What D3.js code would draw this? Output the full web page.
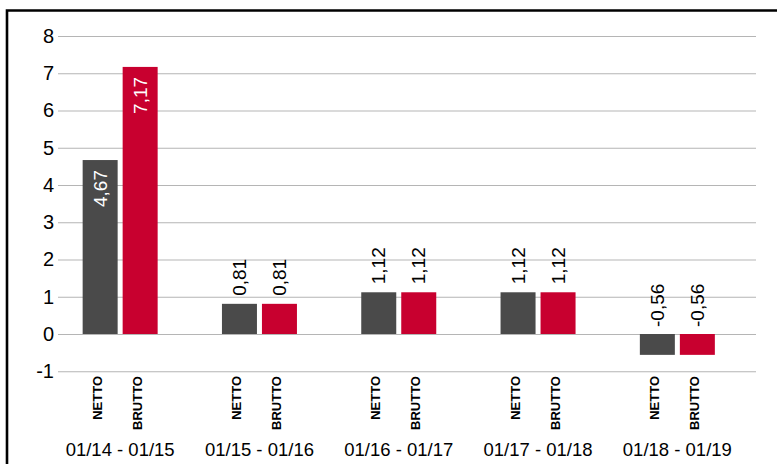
<!DOCTYPE html>
<html>
<head>
<meta charset="utf-8">
<script src="https://cdn.jsdelivr.net/npm/d3@7/dist/d3.min.js"></script>
<style>
  body { margin: 0; background: #fff; }
  svg { display: block; font-family: "Liberation Sans", Arial, Helvetica, sans-serif; }
</style>
</head>
<body>
<svg id="chart" width="777" height="464"></svg>
<script>
// Data
const periods = ['01/14 - 01/15', '01/15 - 01/16', '01/16 - 01/17', '01/17 - 01/18', '01/18 - 01/19'];
const series = ['NETTO', 'BRUTTO'];
const netto = [4.67, 0.81, 1.12, 1.12, -0.56];
const brutto = [7.17, 0.81, 1.12, 1.12, -0.56];
const yTicks = [-1, 0, 1, 2, 3, 4, 5, 6, 7, 8];

const colors = { NETTO: '#4a4a4a', BRUTTO: '#c8002f' };

const svg = d3.select('#chart');

// frame (top + left border only)
svg.append('path')
    .attr('d', 'M7,470 L7,10.5 L790,10.5')
    .attr('fill', 'none')
    .attr('stroke', '#000')
    .attr('stroke-width', 2.6);

// Scales
const gridLeft = 58, gridRight = 756;
const y = d3.scaleLinear().domain([-1, 8]).range([371.25, 36]);
const x0 = d3.scaleBand().domain(periods).range([50.5, 747]).padding(0);
const x1 = d3.scaleBand().domain(series).range([0, 75]).paddingInner(0.125).paddingOuter(0);

// Y axis with gridlines (plain hyphen for negatives)
const yAxis = svg.append('g')
    .attr('transform', `translate(${gridLeft},0)`)
    .call(d3.axisLeft(y).tickValues(yTicks).tickSize(-(gridRight - gridLeft)).tickPadding(4).tickFormat(d => String(d)));
yAxis.select('.domain').remove();
yAxis.selectAll('.tick line').attr('stroke', '#b5b5b5').attr('stroke-width', 1.2);
yAxis.selectAll('.tick text')
    .attr('font-size', 20)
    .attr('fill', '#000')
    .attr('font-family', '"Liberation Sans", Arial, sans-serif');

// Build rows
const rows = periods.map((p, i) => ({ period: p, values: [
    { key: 'NETTO', value: netto[i] },
    { key: 'BRUTTO', value: brutto[i] }
]}));

const groups = svg.append('g').selectAll('g.grp')
    .data(rows)
    .enter()
    .append('g')
    .attr('class', 'grp')
    .attr('transform', d => `translate(${x0(d.period) + (x0.bandwidth() - 75) / 2},0)`);

// Bars
groups.selectAll('rect')
    .data(d => d.values)
    .enter()
    .append('rect')
    .attr('x', d => x1(d.key))
    .attr('width', x1.bandwidth())
    .attr('y', d => y(Math.max(0, d.value)))
    .attr('height', d => Math.abs(y(d.value) - y(0)))
    .attr('fill', d => colors[d.key]);

// Value labels (rotated), comma decimal and plain hyphen
const fmt = v => v.toFixed(2).replace('.', ',');
groups.selectAll('text.val')
    .data(d => d.values)
    .enter()
    .append('text')
    .attr('class', 'val')
    .attr('transform', d => {
        const cx = x1(d.key) + x1.bandwidth() / 2;
        let ty;
        if (d.value >= 3) ty = y(d.value) + 10;
        else if (d.value >= 0) ty = y(d.value) - 8;
        else ty = y(0) - 7;
        return `translate(${cx},${ty}) rotate(-90)`;
    })
    .attr('text-anchor', d => d.value >= 3 ? 'end' : 'start')
    .attr('dominant-baseline', 'central')
    .attr('font-size', 19)
    .attr('fill', d => d.value >= 3 ? '#fff' : '#000')
    .text(d => fmt(d.value));

// Series labels under axis
groups.selectAll('text.ser')
    .data(d => d.values)
    .enter()
    .append('text')
    .attr('class', 'ser')
    .attr('transform', d => `translate(${x1(d.key) + x1.bandwidth() / 2 - 3},376) rotate(-90)`)
    .attr('text-anchor', 'end')
    .attr('dominant-baseline', 'central')
    .attr('font-size', 13)
    .attr('font-weight', 'bold')
    .attr('fill', '#000')
    .text(d => d.key);

// Period labels
svg.append('g').selectAll('text')
    .data(periods)
    .enter()
    .append('text')
    .attr('x', d => x0(d) + x0.bandwidth() / 2)
    .attr('y', 456)
    .attr('text-anchor', 'middle')
    .attr('font-size', 18.5)
    .attr('fill', '#000')
    .text(d => d);
</script>
</body>
</html>
